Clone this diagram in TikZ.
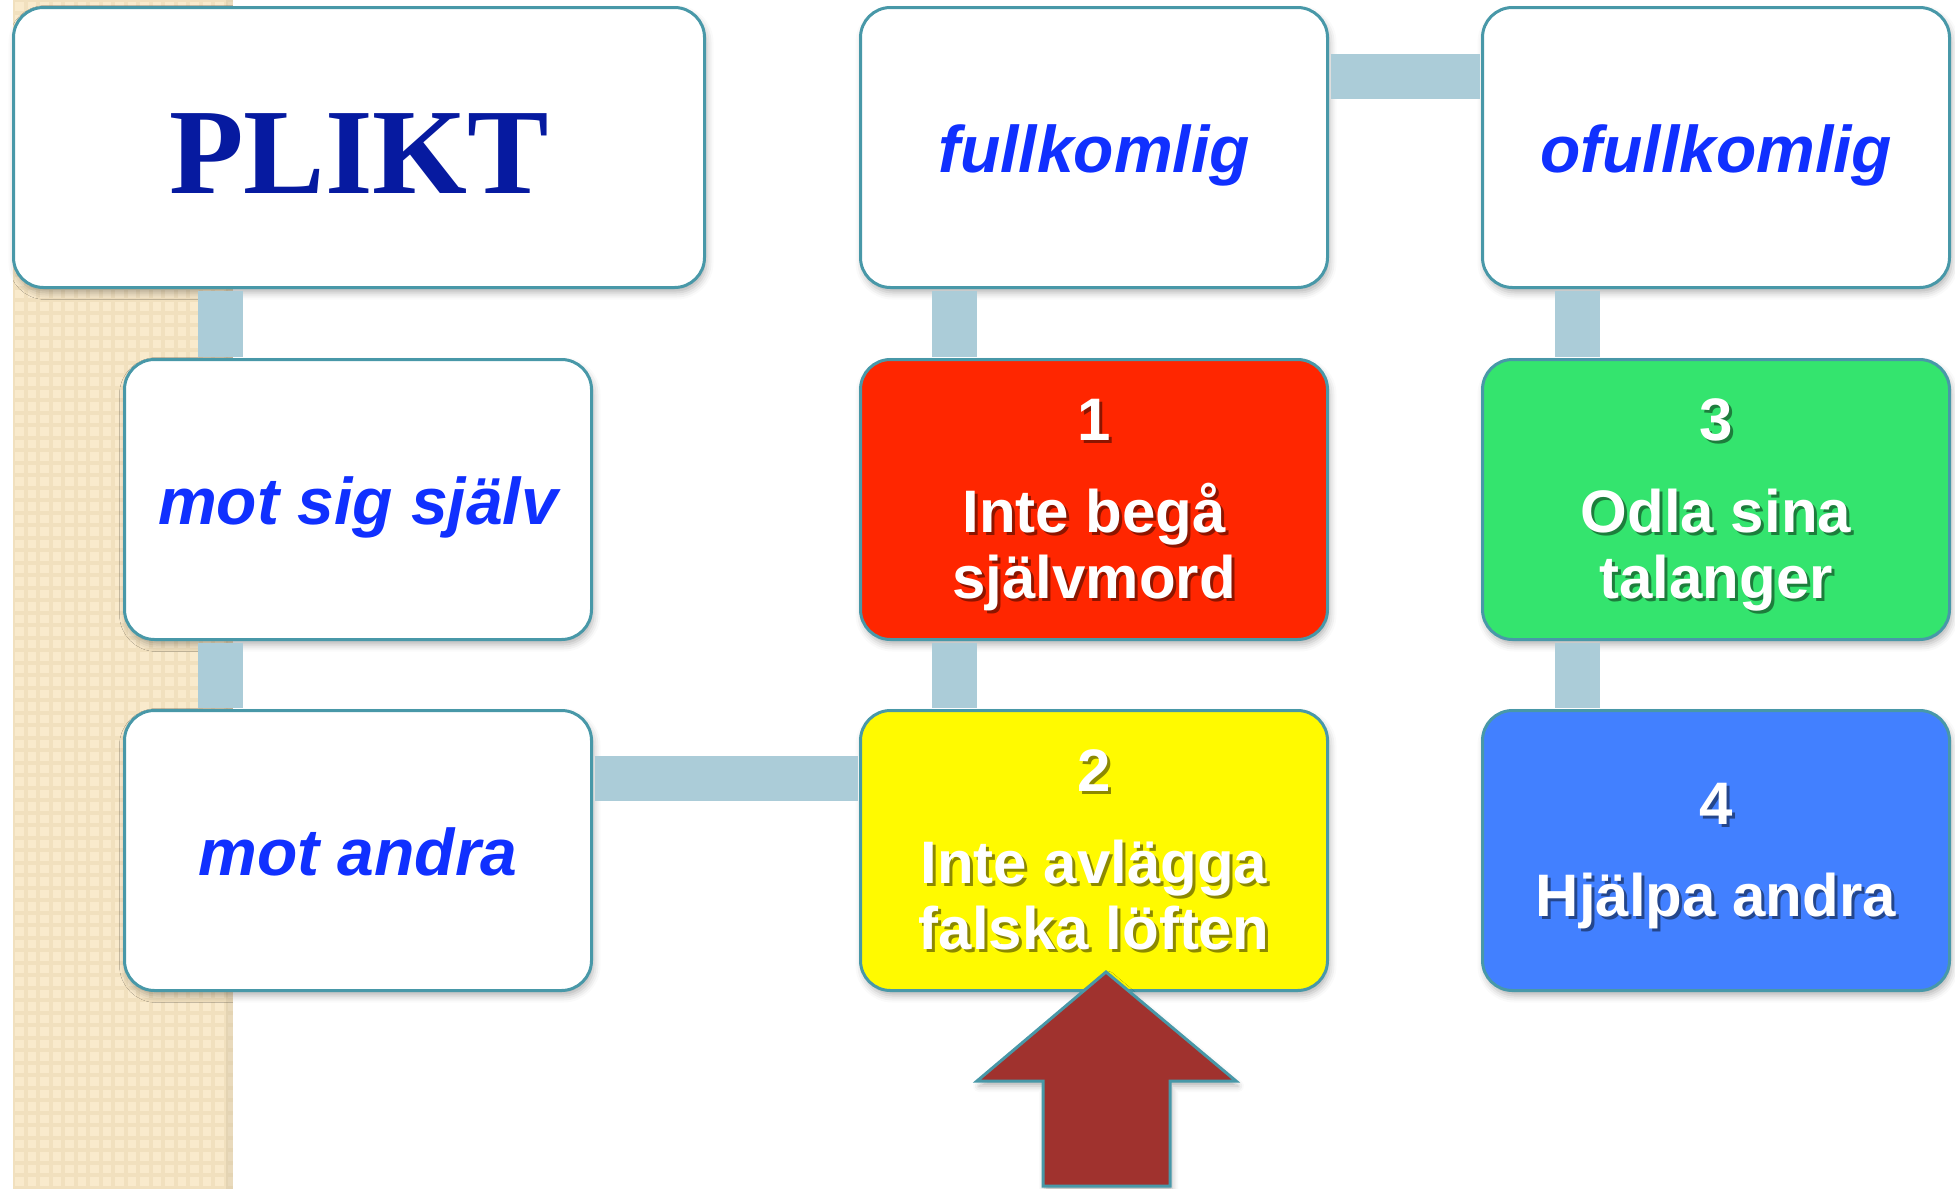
\documentclass[tikz,border=0pt]{standalone}
\usepackage{fontspec}
\usepackage{tikz}
\usetikzlibrary{shadows.blur}

\newfontfamily\sansfont{Liberation Sans}
\newfontfamily\seriffont{Liberation Serif}

\definecolor{edgeteal}{RGB}{72,152,168}
\definecolor{barblue}{RGB}{171,204,216}
\definecolor{stripbeige}{RGB}{249,234,204}
\definecolor{stripcheck}{RGB}{241,224,190}
\definecolor{titleblue}{RGB}{6,26,160}
\definecolor{wordblue}{RGB}{16,48,255}
\definecolor{dutyred}{RGB}{255,38,0}
\definecolor{dutyyellow}{RGB}{255,250,0}
\definecolor{dutygreen}{RGB}{52,228,110}
\definecolor{dutyblue}{RGB}{66,128,255}
\definecolor{arrowred}{RGB}{160,50,46}
\colorlet{txtshadow}{black}

% white text with a soft dark copy behind it
\newcommand{\shtxt}[1]{\makebox[0pt][l]{\hspace{3pt}\raisebox{-3pt}[0pt][0pt]{\textcolor{txtshadow}{#1}}}#1}
\newcommand{\dutynum}[1]{\rule{0pt}{54pt}\shtxt{#1}}
\newcommand{\dutyend}{\rule[-15pt]{0pt}{15pt}}

\begin{document}
\begin{tikzpicture}[x=1pt,y=-1pt]

  \tikzstyle{cellbox}=[rectangle,rounded corners=30pt,draw=edgeteal,line width=3pt,
    fill=white,minimum width=467pt,minimum height=280pt,inner sep=0pt,
    blur shadow={shadow xshift=2pt,shadow yshift=-5pt,shadow blur radius=7pt,shadow opacity=30}]
  \tikzstyle{wordbox}=[cellbox,text=wordblue,
    font=\sansfont\bfseries\itshape\fontsize{66}{72}\selectfont,
    text height=63pt,text depth=13pt]
  \tikzstyle{dutybox}=[cellbox,fill=#1,text=white,align=center,
    font=\sansfont\bfseries\fontsize{60}{66}\selectfont,
    execute at begin node={\colorlet{txtshadow}{#1!55!black}}]
  \tikzstyle{checkline}=[stripcheck,line width=4pt]

  %% \draw [help lines] (0,0) grid [step=100] (1955,1189);
  \useasboundingbox (0,0) rectangle (1955,1189);

  % textured side strip
  \fill [stripbeige] (13,0) rectangle (233,1189);
  \begin{scope}
    \clip (13,0) rectangle (233,1189);
    \foreach \gy in {0,12.5,...,1195} \draw [checkline] (13,\gy) -- (233,\gy);
    \foreach \gx in {13,25.5,...,240} \draw [checkline] (\gx,0) -- (\gx,1189);
  \end{scope}
  \fill [stripcheck!85!black,opacity=0.35] (226,0) rectangle (233,1189);

  \node (plikt)  at (359,147.5)  [cellbox,minimum width=691pt,text=titleblue,
    font=\seriffont\bfseries\fontsize{122}{130}\selectfont,
    text height=116pt,text depth=24pt]                          {PLIKT};
  \node (full)   at (1094,147.5) [wordbox]                      {fullkomlig};
  \node (ofull)  at (1716,147.5) [wordbox]                      {ofullkomlig};
  \node (self)   at (358,499.5)  [wordbox]                      {mot sig själv};
  \node (others) at (358,850.5)  [wordbox]                      {mot andra};

  \node (r1) at (1094,499.5) [dutybox=dutyred]
    {\dutynum{1}\\[26pt]\shtxt{Inte begå}\\\shtxt{självmord}\dutyend};
  \node (r2) at (1094,850.5) [dutybox=dutyyellow]
    {\dutynum{2}\\[26pt]\shtxt{Inte avlägga}\\\shtxt{falska löften}\dutyend};
  \node (r3) at (1716,499.5) [dutybox=dutygreen]
    {\dutynum{3}\\[26pt]\shtxt{Odla sina}\\\shtxt{talanger}\dutyend};
  \node (r4) at (1716,850.5) [dutybox=dutyblue]
    {\dutynum{4}\\[26pt]\shtxt{Hjälpa andra}\dutyend};

  \tikzstyle{barline}=[barblue,line width=45pt,shorten <=1.5pt,shorten >=1.5pt]
  \tikzstyle{uparrow}=[fill=arrowred,draw=edgeteal,line width=3pt,line join=miter,
    blur shadow={shadow xshift=2pt,shadow yshift=-5pt,shadow blur radius=6pt,shadow opacity=30}]

  \path ([xshift=97pt]self.north west |- plikt.south) edge [barline] ([xshift=97pt]self.north west)
        ([xshift=97pt]self.south west)   edge [barline] ([xshift=97pt]others.north west)
        ([xshift=95pt]full.south west)   edge [barline] ([xshift=95pt]r1.north west)
        ([xshift=95pt]r1.south west)     edge [barline] ([xshift=95pt]r2.north west)
        ([xshift=96pt]ofull.south west)  edge [barline] ([xshift=96pt]r3.north west)
        ([xshift=96pt]r3.south west)     edge [barline] ([xshift=96pt]r4.north west)
        ([yshift=-70pt]full.north east)  edge [barline] ([yshift=-70pt]ofull.north west)
        ([yshift=-69pt]others.north east) edge [barline] ([yshift=-69pt]r2.north west);

  \draw [uparrow] (1106,972) -- (1236,1081) -- (1170,1081) -- (1170,1186)
    -- (1043,1186) -- (1043,1081) -- (977,1081) -- cycle;
\end{tikzpicture}
\end{document}
